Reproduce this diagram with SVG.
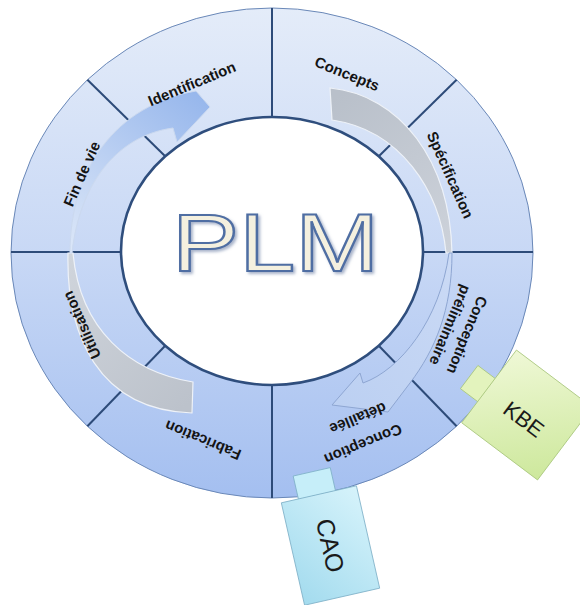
<svg xmlns="http://www.w3.org/2000/svg" width="580" height="605" viewBox="0 0 580 605">
<style>
.div{stroke:#2d4b79;stroke-width:2;fill:none}
.lbl{font-family:"Liberation Sans",Arial,sans-serif;font-weight:bold;font-size:15px;fill:#141414;text-anchor:middle}
.box{font-family:"Liberation Sans",Arial,sans-serif;fill:#1a1a1a;text-anchor:middle}
.gray{stroke:#eef2f8;stroke-width:1.2}
</style>
<defs>
<linearGradient id="ringG" x1="0" y1="8" x2="0" y2="498" gradientUnits="userSpaceOnUse">
<stop offset="0" stop-color="#e4ecf9"/><stop offset="0.5" stop-color="#c8d8f5"/><stop offset="1" stop-color="#a4bff0"/>
</linearGradient>
<linearGradient id="blueL" x1="200" y1="95" x2="70" y2="253" gradientUnits="userSpaceOnUse">
<stop offset="0" stop-color="#97b7ec"/><stop offset="1" stop-color="#dce7f8"/>
</linearGradient>
<linearGradient id="grayL" x1="192" y1="400" x2="70" y2="253" gradientUnits="userSpaceOnUse">
<stop offset="0" stop-color="#bcc2cb"/><stop offset="1" stop-color="#d0d5dc"/>
</linearGradient>
<linearGradient id="grayR" x1="332" y1="100" x2="450" y2="253" gradientUnits="userSpaceOnUse">
<stop offset="0" stop-color="#b9c0ca"/><stop offset="1" stop-color="#cdd2da"/>
</linearGradient>
<linearGradient id="blueR" x1="450" y1="253" x2="340" y2="405" gradientUnits="userSpaceOnUse">
<stop offset="0" stop-color="#cbdaf5"/><stop offset="1" stop-color="#bcd0f2"/>
</linearGradient>
<linearGradient id="kbeG" x1="0" y1="0" x2="1" y2="1">
<stop offset="0" stop-color="#eff8d6"/><stop offset="1" stop-color="#cde89c"/>
</linearGradient>
<linearGradient id="caoG" x1="0" y1="0" x2="1" y2="1">
<stop offset="0" stop-color="#d6f3fb"/><stop offset="1" stop-color="#a3dbee"/>
</linearGradient>
<filter id="sh" x="-10%" y="-10%" width="130%" height="130%">
<feGaussianBlur in="SourceAlpha" stdDeviation="1.5"/>
<feOffset dx="1.5" dy="1.5" result="b"/>
<feFlood flood-color="#6d80a6" flood-opacity="0.6"/>
<feComposite in2="b" operator="in"/>
<feMerge><feMergeNode/><feMergeNode in="SourceGraphic"/></feMerge>
</filter>
</defs>

<g id="ring">
<path d="M11,253 A261,245 0 1,1 533,253 A261,245 0 1,1 11,253 Z M121,251 A151,134 0 1,0 423,251 A151,134 0 1,0 121,251 Z" fill="url(#ringG)" fill-rule="evenodd"/>
<ellipse cx="272" cy="253" rx="261" ry="245" fill="none" stroke="#6a88b8" stroke-width="1"/>
</g>

<g id="connectors">
<line class="div" x1="272" y1="8" x2="272" y2="117"/>
<line class="div" x1="272" y1="385" x2="272" y2="498"/>
<line class="div" x1="11" y1="252" x2="121" y2="252"/>
<line class="div" x1="423" y1="252" x2="533" y2="252"/>
<line class="div" x1="87.4" y1="79.8" x2="165.2" y2="156.2"/>
<line class="div" x1="456.6" y1="79.8" x2="378.8" y2="156.2"/>
<line class="div" x1="378.8" y1="345.8" x2="456.6" y2="426.2"/>
<line class="div" x1="165.2" y1="345.8" x2="87.4" y2="426.2"/>
<ellipse cx="272" cy="251" rx="151" ry="134" fill="#ffffff" stroke="#2f4e7d" stroke-width="2.6"/>
</g>

<g id="arrow-left">
<path class="gray" d="M68,253 C66,335 98,410 192,413 L193,382 C130,372 80,330 73,253 Z" fill="url(#grayL)"/>
<path d="M70,253 C70,170 115,105 196,91 L210,107 L177,142 L173,128 C120,135 80,180 72,253 Z" fill="url(#blueL)" stroke="#cbd9ef" stroke-width="1"/>
</g>
<g id="arrow-right">
<path class="gray" d="M330,88 C400,95 450,160 452,253 L446,253 C440,190 400,130 332,120 Z" fill="url(#grayR)"/>
<path d="M452,253 C452,310 435,350 410,383 L388,412 L332,405 L360,373 L363,383 C400,370 440,320 449,253 Z" fill="url(#blueR)" stroke="#8ea6d2" stroke-width="1"/>
</g>

<g id="labels">
<text class="lbl" transform="translate(192,84) rotate(-22.5)" x="0" y="5">Identification</text>
<text class="lbl" transform="translate(82,174) rotate(-66)" x="0" y="5">Fin de vie</text>
<text class="lbl" transform="translate(347,74) rotate(22)" x="0" y="5">Concepts</text>
<text class="lbl" transform="translate(450,175) rotate(66)" x="0" y="5">Spécification</text>
<text class="lbl" transform="translate(467,335) rotate(112.5)" x="0" y="5">Conception</text>
<text class="lbl" transform="translate(450,325) rotate(112.5)" x="0" y="5">préliminaire</text>
<text class="lbl" transform="translate(363,444) rotate(157.5)" x="0" y="5">Conception</text>
<text class="lbl" transform="translate(358,418) rotate(157.5)" x="0" y="5">détaillée</text>
<text class="lbl" transform="translate(203,440) rotate(202.5)" x="0" y="5">Fabrication</text>
<text class="lbl" transform="translate(82,325) rotate(246)" x="0" y="5">Utilisation</text>
</g>

<g id="plm" filter="url(#sh)">
<text x="172" y="271" textLength="207" lengthAdjust="spacingAndGlyphs" font-family="'Liberation Sans',Arial,sans-serif" font-size="81" fill="#f4f0df" stroke="#4f6ea3" stroke-width="2">PLM</text>
</g>

<g id="kbe" transform="translate(527,415) rotate(37)">
<rect x="-69" y="-10" width="22" height="29" fill="#e3f3bd" stroke="#a9c67c" stroke-width="0.8"/>
<rect x="-47.5" y="-45.5" width="95" height="91" fill="url(#kbeG)" stroke="#a9c67c" stroke-width="0.8"/>
<text class="box" x="0" y="13" font-size="22">KBE</text>
</g>

<g id="cao" transform="translate(330.5,545.5) rotate(77.2)">
<rect x="-76" y="-17" width="24" height="38" fill="#c6eef9" stroke="#7fb0c8" stroke-width="0.8"/>
<rect x="-52.5" y="-38.5" width="105" height="77" fill="url(#caoG)" stroke="#7fb0c8" stroke-width="0.8"/>
<text class="box" x="0" y="9" font-size="25">CAO</text>
</g>
</svg>
